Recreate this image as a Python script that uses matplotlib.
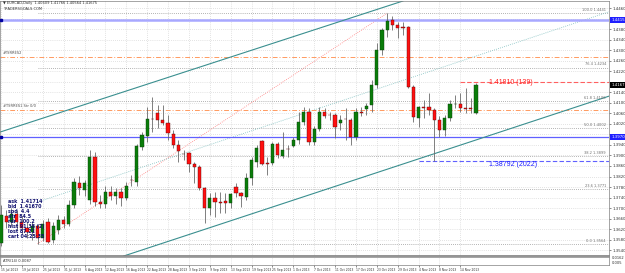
import matplotlib
matplotlib.use('Agg')
import matplotlib.pyplot as plt
import matplotlib.transforms as mtransforms
import numpy as np

# daily candles, bar 0 .. 91
opens = [1.3567, 1.3670, 1.3647, 1.3677, 1.3647, 1.3624, 1.3609, 1.3632, 1.3586, 1.3647,
         1.3579, 1.3617, 1.3655, 1.3640, 1.3712, 1.3795, 1.3769, 1.3731, 1.3894, 1.3723,
         1.3716, 1.3761, 1.3746, 1.3761, 1.3738, 1.3807, 1.3799, 1.3932, 1.3974, 1.4039,
         1.4061, 1.4035, 1.4023, 1.3982, 1.3940, 1.3906, 1.3909, 1.3868, 1.3856, 1.3776,
         1.3700, 1.3738, 1.3723, 1.3727, 1.3719, 1.3780, 1.3757, 1.3742, 1.3814, 1.3875,
         1.3955, 1.3871, 1.3871, 1.3944, 1.3898, 1.3925, 1.3936, 1.3959, 1.4027, 1.4065,
         1.3951, 1.4001, 1.4065, 1.4054, 1.4054, 1.4023, 1.4039, 1.4035, 1.3970, 1.4065,
         1.4076, 1.4092, 1.4168, 1.4301, 1.4377, 1.4415, 1.4396, 1.4388, 1.4388, 1.4160,
         1.4042, 1.4084, 1.4084, 1.4073, 1.4035, 1.3997, 1.4042, 1.4095, 1.4095, 1.4080,
         1.4080, 1.4061]
highs = [1.3712, 1.3693, 1.3700, 1.3693, 1.3670, 1.3647, 1.3647, 1.3640, 1.3655, 1.3662,
         1.3647, 1.3674, 1.3670, 1.3731, 1.3814, 1.3822, 1.3807, 1.3921, 1.3913, 1.3750,
         1.3784, 1.3784, 1.3776, 1.3776, 1.3799, 1.3826, 1.3944, 1.3989, 1.4084, 1.4122,
         1.4092, 1.4092, 1.4054, 1.3997, 1.3959, 1.3921, 1.3913, 1.3875, 1.3864, 1.3780,
         1.3757, 1.3761, 1.3761, 1.3757, 1.3757, 1.3795, 1.3761, 1.3833, 1.3894, 1.3940,
         1.3959, 1.3894, 1.3951, 1.3951, 1.3989, 1.3940, 1.3970, 1.4065, 1.4084, 1.4080,
         1.4012, 1.4084, 1.4080, 1.4065, 1.4061, 1.4054, 1.4080, 1.4042, 1.4080, 1.4084,
         1.4099, 1.4187, 1.4327, 1.4384, 1.4441, 1.4430, 1.4407, 1.4407, 1.4392, 1.4168,
         1.4088, 1.4111, 1.4137, 1.4080, 1.4050, 1.4054, 1.4111, 1.4130, 1.4137, 1.4156,
         1.4118, 1.4177]
lows = [1.3556, 1.3624, 1.3632, 1.3617, 1.3602, 1.3586, 1.3579, 1.3564, 1.3575, 1.3567,
        1.3567, 1.3602, 1.3624, 1.3632, 1.3700, 1.3750, 1.3746, 1.3716, 1.3708, 1.3700,
        1.3700, 1.3731, 1.3716, 1.3708, 1.3731, 1.3784, 1.3784, 1.3921, 1.3951, 1.3989,
        1.4004, 1.4016, 1.3959, 1.3928, 1.3875, 1.3883, 1.3837, 1.3795, 1.3769, 1.3643,
        1.3674, 1.3666, 1.3681, 1.3681, 1.3700, 1.3742, 1.3704, 1.3731, 1.3788, 1.3856,
        1.3864, 1.3826, 1.3864, 1.3891, 1.3891, 1.3894, 1.3932, 1.3944, 1.4016, 1.3940,
        1.3940, 1.3993, 1.4042, 1.4035, 1.3966, 1.3997, 1.3959, 1.3940, 1.3959, 1.4050,
        1.4054, 1.4065, 1.4156, 1.4282, 1.4350, 1.4377, 1.4346, 1.4358, 1.4156, 1.4027,
        1.4008, 1.4042, 1.4054, 1.3879, 1.3970, 1.3974, 1.4031, 1.4080, 1.4065, 1.4061,
        1.4061, 1.4056]
closes = [1.3674, 1.3647, 1.3677, 1.3647, 1.3624, 1.3609, 1.3632, 1.3586, 1.3640, 1.3571,
          1.3632, 1.3655, 1.3640, 1.3712, 1.3799, 1.3776, 1.3795, 1.3894, 1.3723, 1.3716,
          1.3761, 1.3746, 1.3761, 1.3738, 1.3784, 1.3805, 1.3936, 1.3978, 1.4039, 1.4037,
          1.4035, 1.4023, 1.3985, 1.3940, 1.3917, 1.3904, 1.3868, 1.3856, 1.3776, 1.3700,
          1.3738, 1.3723, 1.3721, 1.3719, 1.3753, 1.3757, 1.3746, 1.3814, 1.3883, 1.3928,
          1.3868, 1.3869, 1.3944, 1.3902, 1.3921, 1.3923, 1.3959, 1.4027, 1.4065, 1.3951,
          1.4001, 1.4065, 1.4050, 1.4052, 1.4008, 1.4035, 1.4037, 1.3970, 1.4065, 1.4063,
          1.4088, 1.4168, 1.4301, 1.4377, 1.4411, 1.4396, 1.4384, 1.4386, 1.4160, 1.4046,
          1.4084, 1.4082, 1.4073, 1.4035, 1.3997, 1.4042, 1.4095, 1.4097, 1.4080, 1.4078,
          1.4078, 1.4168]

date_labels = ['15 Jul 2013', '19 Jul 2013', '25 Jul 2013', '31 Jul 2013', '6 Aug 2013',
               '12 Aug 2013', '16 Aug 2013', '22 Aug 2013', '28 Aug 2013', '3 Sep 2013',
               '9 Sep 2013', '13 Sep 2013', '19 Sep 2013', '25 Sep 2013', '1 Oct 2013',
               '7 Oct 2013', '11 Oct 2013', '17 Oct 2013', '23 Oct 2013', '29 Oct 2013',
               '4 Nov 2013', '8 Nov 2013', '14 Nov 2013']
date_step = 4
price_ticks = np.arange(1.3540, 1.4461, 0.0040)

# drawn objects
blue_levels = [1.4415, 1.3970]
orange_levels = [1.4274, 1.4073]
orange_names = ['#TSRRES2', '#TSRRES1 Str 0/0']
fib_low_bar, fib_low = 7, 1.3564
fib_high_bar, fib_high = 74, 1.4441
fib_ratios = [0.0, 0.236, 0.382, 0.5, 0.618, 0.764, 1.0]
upper_channel = [(0, 1.3990), (75, 1.4474)]
lower_channel = [(24, 1.3521), (110, 1.4083)]
teal_dotted = [(7, 1.3723), (116.5, 1.4446)]
target_hi, target_hi_txt, target_hi_bar = 1.41810, '1.41810 (139)', 88
target_lo, target_lo_txt, target_lo_bar = 1.38792, '1.38792 (2022)', 80
bid_price = 1.4167
info_lines = ['ask  1.41714', 'bid  1.41670', 'spd  4.4', 'atr  84.5',
              'rdr  100.2', 'hist 91.38 (2)', 'lost 87.21', 'cart 04:25:35']

W, H = 625, 273
fig = plt.figure(figsize=(W / 100, H / 100), dpi=100)
fig.patch.set_facecolor('white')


def px_axes(x0, y0, x1, y1):
    return fig.add_axes([x0 / W, 1 - y1 / H, (x1 - x0) / W, (y1 - y0) / H])


ax = px_axes(0, 1, 609, 256)
sub = px_axes(0, 257, 609, 265)

ax.set_xlim(-0.19, 116.48)
ax.set_ylim(1.35179, 1.44869)

n = len(opens)
idx = np.arange(n)
o = np.array(opens); c = np.array(closes)
hi = np.array(highs); lo = np.array(lows)

# grid
for p in price_ticks:
    ax.axhline(p, color='#c8c8c8', lw=0.5, ls=(0, (1, 2)), zorder=0)
for k in range(len(date_labels)):
    ax.axvline(k * date_step, color='#c8c8c8', lw=0.5, ls=(0, (1, 2)), zorder=0)
    sub.axvline(k * date_step, color='#c8c8c8', lw=0.5, ls=(0, (1, 2)), zorder=0)

# fibonacci levels
rng = fib_high - fib_low
for r in fib_ratios:
    lvl = fib_low + r * rng
    ax.plot([fib_low_bar, 116.5], [lvl, lvl], color='#9a9a9a', lw=0.6,
            ls=(0, (1, 1.5)), zorder=1)
    ax.text(115.9, lvl + 0.0004, f'{r * 100:.1f} {lvl:.4f}', fontsize=2.6,
            color='#707070', ha='right', va='bottom', zorder=3)
ax.plot([fib_low_bar, fib_high_bar], [fib_low, fib_high], color='#ff8080', lw=0.6,
        ls=(0, (1, 1.5)), zorder=1)
ax.plot([p[0] for p in teal_dotted], [p[1] for p in teal_dotted], color='#7fbfbf',
        lw=0.6, ls=(0, (1, 1.5)), zorder=1)

# horizontal levels
ax.axhline(blue_levels[0], color='#a8a8ff', lw=1.8, zorder=1)
ax.axhline(blue_levels[1], color='#6060ff', lw=0.9, zorder=1)
for p in blue_levels:
    ax.plot([0.05], [p], marker='s', ms=1.6, color='#0000a0', zorder=4, clip_on=False)
for p, name in zip(orange_levels, orange_names):
    ax.axhline(p, color='#ff9a60', lw=0.7, ls=(0, (5, 2, 1, 2)), zorder=1)
    ax.text(0.4, p + 0.0006, name, fontsize=2.6, color='#505050', va='bottom', zorder=3)

ax.plot([target_hi_bar, 116.5], [target_hi, target_hi], color='#ff6060', lw=0.8,
        ls=(0, (4, 2)), zorder=1)
ax.text(93.5, target_hi - 0.0005, target_hi_txt, fontsize=5, color='#ff2020',
        family='Liberation Sans', va='center', zorder=3)
ax.plot([target_lo_bar, 116.5], [target_lo, target_lo], color='#6060ff', lw=0.8,
        ls=(0, (4, 2)), zorder=1)
ax.text(93.5, target_lo - 0.0013, target_lo_txt, fontsize=5, color='#2020ff',
        family='Liberation Sans', va='center', zorder=3)

# channel lines
ax.axline(upper_channel[0], upper_channel[1], color='#3a8f8f', lw=0.8, zorder=1)
ax.axline(lower_channel[0], lower_channel[1], color='#3a8f8f', lw=0.8, zorder=1)

# candles
ax.vlines(idx, lo, hi, color='#6a6a6a', lw=0.6, zorder=2)
up = c > o + 0.00015
dn = c < o - 0.00015
dj = ~(up | dn)
ax.bar(idx[up], (c - o)[up], bottom=o[up], width=0.62, color='#0a7d0a',
       edgecolor='#0a3a0a', lw=0.3, zorder=3)
ax.bar(idx[dn], (o - c)[dn], bottom=c[dn], width=0.62, color='#ff1010',
       edgecolor='#5a0a0a', lw=0.3, zorder=3)
ax.hlines(o[dj], idx[dj] - 0.35, idx[dj] + 0.35, color='black', lw=0.9, zorder=3)

# header and info texts
ax.text(0.4, 1.4480, '\u25bc EURCAD,Daily  1.40609 1.41766 1.40564 1.41675',
        fontsize=2.6, color='#303030', va='center')
ax.text(0.4, 1.4458, 'TRADERSGOALS.COM', fontsize=2.6, color='#303030', va='center')
for k, line in enumerate(info_lines):
    ax.text(1.3, 1.3725 - k * 0.0019, line, fontsize=3.4, color='#10106e',
            fontweight='bold', va='center', zorder=5)

# right price scale (labels hidden where a marker box sits on top)
boxes = [(blue_levels[0], '#2020ff'), (blue_levels[1], '#2020ff'), (bid_price, 'black')]
ax.yaxis.tick_right()
ax.set_yticks(price_ticks)
ax.set_yticklabels(['' if min(abs(p - b[0]) for b in boxes) < 0.0022 else f'{p:.4f}'
                    for p in price_ticks])
ax.tick_params(axis='y', labelsize=2.8, length=1.5, width=0.4, pad=1, colors='#303030')
ax.set_xticks([])
trans = mtransforms.blended_transform_factory(ax.transAxes, ax.transData)
for p, col in boxes:
    ax.text(1.004, p, f'{p:.4f}', transform=trans, fontsize=2.8, color='white',
            va='center', ha='left', clip_on=False, zorder=6,
            bbox=dict(boxstyle='square,pad=0.25', fc=col, ec='none'))
for s in ax.spines.values():
    s.set_color('#808080'); s.set_linewidth(0.5)
ax.spines['bottom'].set_linewidth(1.2)

# sub window
sub.set_xlim(ax.get_xlim())
sub.set_ylim(0, 1)
sub.set_yticks([])
sub.text(0.4, 0.5, 'ATR(14) 0.0087', fontsize=2.6, color='#303030', va='center')
sub.text(1.004, 0.85, '0.0162', transform=sub.transAxes, fontsize=2.6, color='#303030', va='center')
sub.text(1.004, 0.2, '0.005', transform=sub.transAxes, fontsize=2.6, color='#303030', va='center')
sub.set_xticks([k * date_step for k in range(len(date_labels))])
sub.set_xticklabels(date_labels, ha='left')
sub.tick_params(axis='x', labelsize=2.2, length=1.5, width=0.4, pad=1, colors='#303030')
for s in sub.spines.values():
    s.set_color('#808080'); s.set_linewidth(0.5)

fig.savefig('out.png', dpi=100)
